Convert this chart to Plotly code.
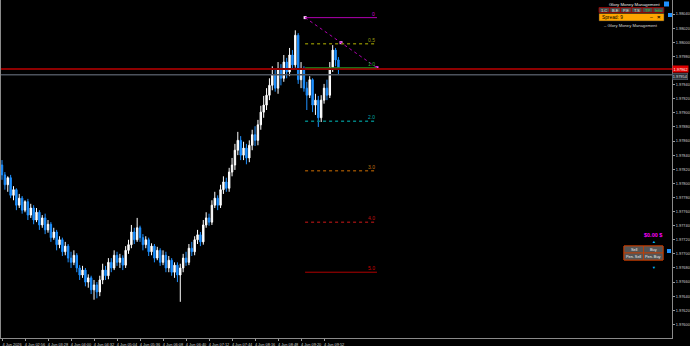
import plotly.graph_objects as go

# ---------------- data ----------------
bar_index = list(range(118))

opens = [1.97826, 1.97812, 1.97798, 1.97808, 1.97783, 1.97791, 1.97769, 1.97779, 1.97762, 1.97774,
         1.97755, 1.97765, 1.97748, 1.97759, 1.97741, 1.97751, 1.97734, 1.97742, 1.97723, 1.97731,
         1.97713, 1.97720, 1.97703, 1.97711, 1.97694, 1.97688, 1.97698, 1.97680, 1.97670, 1.97677,
         1.97660, 1.97666, 1.97649, 1.97656, 1.97646, 1.97663, 1.97677, 1.97669, 1.97688, 1.97680,
         1.97698, 1.97688, 1.97694, 1.97684, 1.97705, 1.97713, 1.97731, 1.97720, 1.97737, 1.97723,
         1.97713, 1.97720, 1.97703, 1.97711, 1.97694, 1.97705, 1.97688, 1.97698, 1.97680, 1.97691,
         1.97674, 1.97684, 1.97670, 1.97680, 1.97694, 1.97688, 1.97708, 1.97703, 1.97720, 1.97727,
         1.97717, 1.97741, 1.97751, 1.97745, 1.97769, 1.97779, 1.97769, 1.97791, 1.97802, 1.97793,
         1.97816, 1.97826, 1.97847, 1.97861, 1.97840, 1.97850, 1.97836, 1.97854, 1.97869, 1.97861,
         1.97883, 1.97901, 1.97911, 1.97925, 1.97939, 1.97954, 1.97935, 1.97961, 1.97949, 1.97972,
         1.97958, 1.97982, 1.97968, 1.98010, 1.97947, 1.97961, 1.97935, 1.97925, 1.97947, 1.97911,
         1.97918, 1.97893, 1.97918, 1.97935, 1.97925, 1.97964, 1.97989, 1.97975]

highs = [1.97833, 1.97816, 1.97810, 1.97812, 1.97796, 1.97793, 1.97785, 1.97782, 1.97776, 1.97778,
         1.97771, 1.97769, 1.97765, 1.97762, 1.97755, 1.97757, 1.97748, 1.97745, 1.97737, 1.97734,
         1.97725, 1.97723, 1.97717, 1.97714, 1.97703, 1.97705, 1.97701, 1.97684, 1.97683, 1.97680,
         1.97671, 1.97669, 1.97663, 1.97660, 1.97669, 1.97686, 1.97683, 1.97694, 1.97694, 1.97705,
         1.97703, 1.97700, 1.97698, 1.97711, 1.97720, 1.97741, 1.97737, 1.97751, 1.97740, 1.97728,
         1.97725, 1.97723, 1.97715, 1.97714, 1.97710, 1.97708, 1.97705, 1.97703, 1.97697, 1.97694,
         1.97688, 1.97688, 1.97686, 1.97700, 1.97703, 1.97714, 1.97717, 1.97725, 1.97734, 1.97731,
         1.97748, 1.97759, 1.97757, 1.97776, 1.97788, 1.97783, 1.97798, 1.97810, 1.97808, 1.97822,
         1.97836, 1.97856, 1.97873, 1.97867, 1.97859, 1.97856, 1.97861, 1.97876, 1.97881, 1.97890,
         1.97910, 1.97924, 1.97935, 1.97949, 1.97966, 1.97961, 1.97972, 1.97969, 1.97982, 1.97978,
         1.97992, 1.97989, 1.98017, 1.98013, 1.97972, 1.97966, 1.97944, 1.97952, 1.97949, 1.97927,
         1.97924, 1.97925, 1.97941, 1.97947, 1.97972, 1.97996, 1.97992, 1.97979]

lows = [1.97805, 1.97791, 1.97788, 1.97779, 1.97776, 1.97762, 1.97765, 1.97757, 1.97759, 1.97748,
        1.97751, 1.97742, 1.97745, 1.97734, 1.97737, 1.97728, 1.97730, 1.97717, 1.97720, 1.97705,
        1.97708, 1.97697, 1.97698, 1.97688, 1.97680, 1.97684, 1.97674, 1.97663, 1.97666, 1.97654,
        1.97652, 1.97643, 1.97635, 1.97637, 1.97640, 1.97657, 1.97663, 1.97664, 1.97674, 1.97677,
        1.97683, 1.97680, 1.97677, 1.97680, 1.97700, 1.97708, 1.97714, 1.97717, 1.97717, 1.97705,
        1.97708, 1.97697, 1.97698, 1.97688, 1.97691, 1.97683, 1.97684, 1.97674, 1.97674, 1.97669,
        1.97666, 1.97660, 1.97632, 1.97674, 1.97683, 1.97684, 1.97697, 1.97698, 1.97714, 1.97711,
        1.97713, 1.97737, 1.97740, 1.97741, 1.97765, 1.97762, 1.97765, 1.97785, 1.97788, 1.97788,
        1.97810, 1.97819, 1.97840, 1.97833, 1.97833, 1.97827, 1.97830, 1.97847, 1.97853, 1.97854,
        1.97876, 1.97893, 1.97904, 1.97918, 1.97932, 1.97930, 1.97927, 1.97939, 1.97944, 1.97949,
        1.97952, 1.97961, 1.97964, 1.97941, 1.97935, 1.97930, 1.97904, 1.97921, 1.97901, 1.97897,
        1.97880, 1.97887, 1.97913, 1.97918, 1.97921, 1.97958, 1.97966, 1.97954]

closes = [1.97812, 1.97798, 1.97808, 1.97783, 1.97791, 1.97769, 1.97779, 1.97762, 1.97774, 1.97755,
          1.97765, 1.97748, 1.97759, 1.97741, 1.97751, 1.97734, 1.97742, 1.97723, 1.97731, 1.97713,
          1.97720, 1.97703, 1.97711, 1.97694, 1.97688, 1.97698, 1.97680, 1.97670, 1.97677, 1.97660,
          1.97666, 1.97649, 1.97656, 1.97646, 1.97663, 1.97677, 1.97669, 1.97688, 1.97680, 1.97698,
          1.97688, 1.97694, 1.97684, 1.97705, 1.97713, 1.97731, 1.97720, 1.97737, 1.97723, 1.97713,
          1.97720, 1.97703, 1.97711, 1.97694, 1.97705, 1.97688, 1.97698, 1.97680, 1.97691, 1.97674,
          1.97684, 1.97670, 1.97680, 1.97694, 1.97688, 1.97708, 1.97703, 1.97720, 1.97727, 1.97717,
          1.97741, 1.97751, 1.97745, 1.97769, 1.97779, 1.97769, 1.97791, 1.97802, 1.97793, 1.97816,
          1.97826, 1.97847, 1.97861, 1.97840, 1.97850, 1.97836, 1.97854, 1.97869, 1.97861, 1.97883,
          1.97901, 1.97911, 1.97925, 1.97939, 1.97954, 1.97935, 1.97961, 1.97949, 1.97972, 1.97958,
          1.97982, 1.97968, 1.98010, 1.97947, 1.97961, 1.97935, 1.97925, 1.97947, 1.97911, 1.97918,
          1.97893, 1.97918, 1.97935, 1.97925, 1.97964, 1.97989, 1.97975, 1.97962]

x_tick_index = [0, 8, 16, 24, 32, 40, 48, 56, 64, 72, 80, 88, 96, 104, 112]
x_tick_labels = ["4 Jun 2026", "4 Jun 02:56", "4 Jun 03:28", "4 Jun 04:00", "4 Jun 04:32",
                 "4 Jun 05:04", "4 Jun 05:36", "4 Jun 06:08", "4 Jun 06:40", "4 Jun 07:12",
                 "4 Jun 07:44", "4 Jun 08:16", "4 Jun 08:48", "4 Jun 09:20", "4 Jun 09:52"]

# price scale labels (1.97960 sits under the bid/ask labels)
y_tick_values = [1.97600, 1.97620, 1.97640, 1.97660, 1.97680, 1.97700, 1.97720, 1.97740,
                 1.97760, 1.97780, 1.97800, 1.97820, 1.97840, 1.97860, 1.97880, 1.97900,
                 1.97920, 1.97940, 1.97980, 1.98000, 1.98020, 1.98040]

bid_price = 1.97962
ask_price = 1.97954
bid_label = "1.97962"
ask_label = "1.97954"

# money-management / fibo tool levels
fib_labels = ["0", "0.5", "1.0", "2.0", "3.0", "4.0", "5.0"]
fib_prices = [1.98035, 1.97998, 1.97964, 1.97888, 1.97818, 1.97745, 1.97674]
fib_x_start = 105.4
fib_x_end = 130.4

spread_text = "Spread: 9"
profit_text = "$0.00 $"
panel_title = "Glory Money Management"
panel_buttons = ["1.C", "B.E", "P.E", "T.S", "TP", "Info"]
trade_buttons = ["Sell", "Buy", "Pen. Sell", "Pen. Buy"]

# ---------------- styles ----------------
fib_line_colors = ["#B000B0", "#7a7a00", "#1f8a1f", "#008080", "#8b4a00", "#8b1010", "#b00000"]
fib_text_colors = ["#D000D0", "#9a9a10", "#30b030", "#00a8a8", "#c07010", "#c01010", "#d00000"]
fib_dash = ["solid", "dot", "solid", "dot", "dot", "dot", "solid"]
fib_width = [1, 1.5, 1, 1.5, 1.5, 1.5, 1]

W, H = 690, 346
ML, MR, MT, MB = 1, 18, 0, 8
PW, PH = W - ML - MR, H - MT - MB
FONT = "Liberation Sans"
AXIS_FONT = 3.9


def fx(px):
    return (px - ML) / PW


def fy(py):
    return 1 - (py - MT) / PH


fig = go.Figure()
fig.add_trace(go.Candlestick(
    x=bar_index, open=opens, high=highs, low=lows, close=closes,
    increasing=dict(line=dict(color="#FFFFFF", width=1), fillcolor="#FFFFFF"),
    decreasing=dict(line=dict(color="#1E90FF", width=1), fillcolor="#1E90FF"),
    whiskerwidth=0, hoverinfo="skip", showlegend=False,
))

shapes = []
annotations = []

# bid / ask lines
shapes.append(dict(type="line", xref="paper", x0=0, x1=1, yref="y", y0=bid_price, y1=bid_price,
                   line=dict(color="#8e0000", width=2), layer="above"))
shapes.append(dict(type="line", xref="paper", x0=0, x1=1, yref="y", y0=ask_price, y1=ask_price,
                   line=dict(color="#4c525c", width=1.5), layer="above"))

# fib levels
for lab, price, lc, tc, ds, lw in zip(fib_labels, fib_prices, fib_line_colors, fib_text_colors, fib_dash, fib_width):
    shapes.append(dict(type="line", xref="x", yref="y", x0=fib_x_start, x1=fib_x_end, y0=price, y1=price,
                       line=dict(color=lc, width=lw, dash=ds)))
    annotations.append(dict(xref="x", yref="y", x=fib_x_end, y=price, text=lab, showarrow=False,
                            xanchor="right", yanchor="bottom", yshift=-1,
                            font=dict(family=FONT, size=5, color=tc)))
# diagonal trend line of the tool
shapes.append(dict(type="line", xref="x", yref="y", x0=fib_x_start, x1=fib_x_end,
                   y0=fib_prices[0], y1=fib_prices[2], line=dict(color="#B000B0", width=1, dash="dot")))
mid_x = (fib_x_start + fib_x_end) / 2
mid_y = (fib_prices[0] + fib_prices[2]) / 2
fig.add_trace(go.Scatter(x=[fib_x_start, mid_x, fib_x_end], y=[fib_prices[0], mid_y, fib_prices[2]],
                         mode="markers", marker=dict(symbol="square", size=3, color=["#ffd0ff", "#ff80ff", "#ff40ff"]),
                         hoverinfo="skip", showlegend=False))

# axis price labels
annotations.append(dict(xref="paper", yref="y", x=1, y=bid_price, text=bid_label, showarrow=False,
                        xanchor="left", yanchor="middle", bgcolor="#e00000", borderpad=0.5,
                        font=dict(family=FONT, size=AXIS_FONT, color="#ffffff")))
annotations.append(dict(xref="paper", yref="y", x=1, y=ask_price - 0.00002, text=ask_label, showarrow=False,
                        xanchor="left", yanchor="middle", bgcolor="#2a3038", bordercolor="#6a7080", borderwidth=0.5,
                        borderpad=0.3, font=dict(family=FONT, size=AXIS_FONT, color="#dddddd")))


def rect(x0, y0, x1, y1, fill, line="rgba(0,0,0,0)", lw=1):
    shapes.append(dict(type="rect", xref="paper", yref="paper", x0=fx(x0), x1=fx(x1), y0=fy(y1), y1=fy(y0),
                       fillcolor=fill, line=dict(color=line, width=lw), layer="above"))


def text(px, py, s, color, size=4.5, anchor="left", bold=False):
    if bold:
        s = "<b>" + s + "</b>"
    annotations.append(dict(xref="paper", yref="paper", x=fx(px), y=fy(py), text=s, showarrow=False,
                            xanchor=anchor, yanchor="middle", borderpad=0,
                            font=dict(family=FONT, size=size, color=color)))


# top-right panel
text(661, 4.5, panel_title, "#e8e8e8", 4.3, "right")
rect(664, 1.5, 669, 6.5, "#1E90FF")
bx = 599
for i, b in enumerate(panel_buttons):
    x0 = bx + i * 10.8
    rect(x0, 7.5, x0 + 10.8, 12.5, "#4a4a4a", "#a00000", 0.8)
    text(x0 + 5.4, 10, b, "#30d030" if b in ("TP", "Info") else "#e0e0e0", 4, "center")
rect(599, 13.5, 664, 21, "#FFA500", "#303030", 0.5)
text(601, 17.3, spread_text, "#000000", 4.8)
text(651, 17.3, "–", "#000000", 5, "center")
text(659, 17.3, "×", "#000000", 6, "center", True)
text(603, 25.5, "– " + panel_title, "#d8d8d8", 4.2)
rect(668, 13, 672, 17, "#1E90FF")

# bottom-right trade panel
text(653, 235, profit_text, "#FF00FF", 5.5, "center", True)
text(654, 241.5, "▲", "#00BFFF", 4, "center")
rect(624, 246, 663, 260, "rgba(0,0,0,0)", "#d04000", 1)
cells = [(624, 246, 643.5, 253), (643.5, 246, 663, 253), (624, 253, 643.5, 260), (643.5, 253, 663, 260)]
for (x0, y0, x1, y1), lab in zip(cells, trade_buttons):
    rect(x0, y0, x1, y1, "#555555", "#c83c00", 0.8)
    text((x0 + x1) / 2, (y0 + y1) / 2, lab, "#f0f0f0", 3.8, "center")
text(654, 267.5, "▼", "#00BFFF", 4, "center")
rect(667, 249, 671, 253, "#1E90FF")

fig.update_layout(
    shapes=shapes, annotations=annotations,
    width=W, height=H, margin=dict(l=ML, r=MR, t=MT, b=MB, autoexpand=False),
    paper_bgcolor="#000000", plot_bgcolor="#000000",
    showlegend=False, hovermode=False,
    xaxis=dict(range=[-0.35, 233.0], rangeslider=dict(visible=False), showgrid=False, zeroline=False,
               tickmode="array", tickvals=x_tick_index, ticktext=x_tick_labels, tickangle=0,
               automargin=False,
               ticks="outside", ticklen=2, tickcolor="#9a9a9a", ticklabelshift=10, ticklabelstandoff=0,
               tickfont=dict(family=FONT, size=AXIS_FONT, color="#d0d0d0"),
               showline=True, linecolor="#8a8a8a", linewidth=1, mirror=True),
    yaxis=dict(range=[1.975807, 1.98060], side="right", showgrid=False, zeroline=False,
               tickmode="array", tickvals=y_tick_values, tickformat=".5f", automargin=False,
               ticks="outside", ticklen=2, tickcolor="#9a9a9a", ticklabelstandoff=0,
               tickfont=dict(family=FONT, size=AXIS_FONT, color="#d0d0d0"),
               showline=True, linecolor="#8a8a8a", linewidth=1, mirror=True),
)

fig.write_html("out.html")
